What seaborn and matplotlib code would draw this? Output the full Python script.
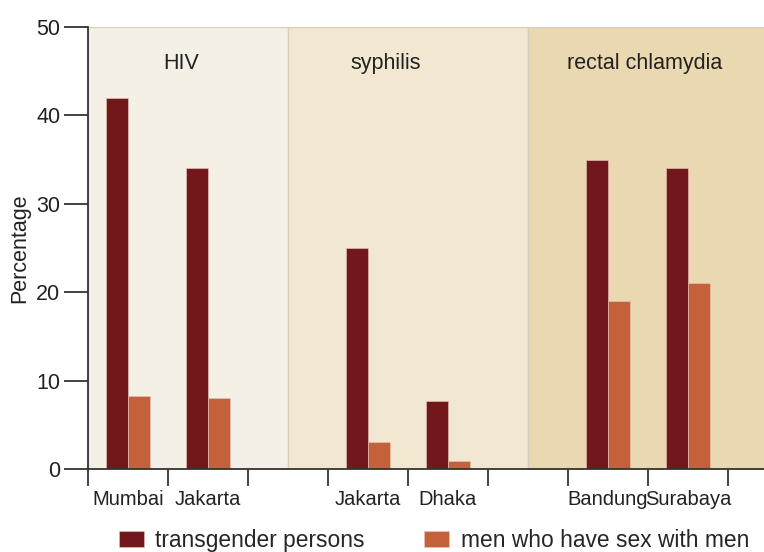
import numpy as np
import pandas as pd
import seaborn as sns
from matplotlib import pyplot as plt
from matplotlib.ticker import FixedLocator

# data
cities = ["Mumbai", "Jakarta", "Jakarta", "Dhaka", "Bandung", "Surabaya"]
slots = [0, 1, 3, 4, 6, 7]
transgender = [42.0, 34.0, 25.0, 7.7, 35.0, 34.0]
msm = [8.3, 8.0, 3.0, 0.9, 19.0, 21.0]
groups = ["transgender persons", "men who have sex with men"]

panels = ["HIV", "syphilis", "rectal chlamydia"]
panel_edges = [-0.5, 2, 5, 8.0]
panel_title_x = [0.66, 3.22, 6.46]
panel_colors = ["#f5f0e5", "#f2e7d1", "#e9d8b0"]
bar_colors = ["#72171a", "#c4613a"]

rows = []
for s, t, m in zip(slots, transgender, msm):
    rows.append({"slot": s, "group": groups[0], "value": t})
    rows.append({"slot": s, "group": groups[1], "value": m})
df = pd.DataFrame(rows)

sns.set_style("ticks")
plt.rcParams["font.family"] = ["Liberation Sans", "DejaVu Sans"]

fig = plt.figure(figsize=(7.64, 5.52), dpi=100)
ax = fig.add_axes([88 / 764, 83 / 552, 1 - 88 / 764, 442 / 552])

for i in range(3):
    ax.axvspan(panel_edges[i], panel_edges[i + 1], ymin=0, ymax=1,
               facecolor=panel_colors[i], edgecolor="#d6cdbd", linewidth=0.9, zorder=0)
    ax.text(panel_title_x[i], 45.9, panels[i], ha="center", va="center",
            fontsize=15.5, color="#222222")

sns.barplot(data=df, x="slot", y="value", hue="group", native_scale=True,
            palette=bar_colors, hue_order=groups, width=0.56, saturation=1, ax=ax,
            edgecolor="#e8c8c0", linewidth=0.4, legend=True, zorder=2)

ax.set_xlim(-0.5, 7.95)
ax.set_ylim(0, 50)
ax.set_yticks([0, 10, 20, 30, 40, 50])
ax.xaxis.set_major_locator(FixedLocator(slots))
ax.set_xticklabels(cities)
ax.xaxis.set_minor_locator(FixedLocator(np.arange(-0.5, 8, 1)))
ax.tick_params(axis="x", which="major", length=0, pad=15, labelsize=14.5, colors="#222222")
ax.tick_params(axis="x", which="minor", length=12, width=1.3, color="#333333")
ax.tick_params(axis="y", length=17, width=1.3, color="#333333", labelsize=15.5,
               labelcolor="#222222", pad=3)
for side in ["top", "right"]:
    ax.spines[side].set_visible(False)
for side in ["left", "bottom"]:
    ax.spines[side].set_linewidth(1.3)
    ax.spines[side].set_color("#333333")

ax.set_xlabel("")
ax.set_ylabel("Percentage", fontsize=15.5, color="#222222", labelpad=4)

handles, labels = ax.get_legend_handles_labels()
ax.get_legend().remove()
fig.legend(handles, labels, loc="center", bbox_to_anchor=(0.568, 0.021), ncol=2,
           frameon=False, fontsize=16.4, handlelength=1.1, handleheight=0.75,
           handletextpad=0.5, columnspacing=2.6, borderpad=0)

fig.savefig("out.png", dpi=100)
